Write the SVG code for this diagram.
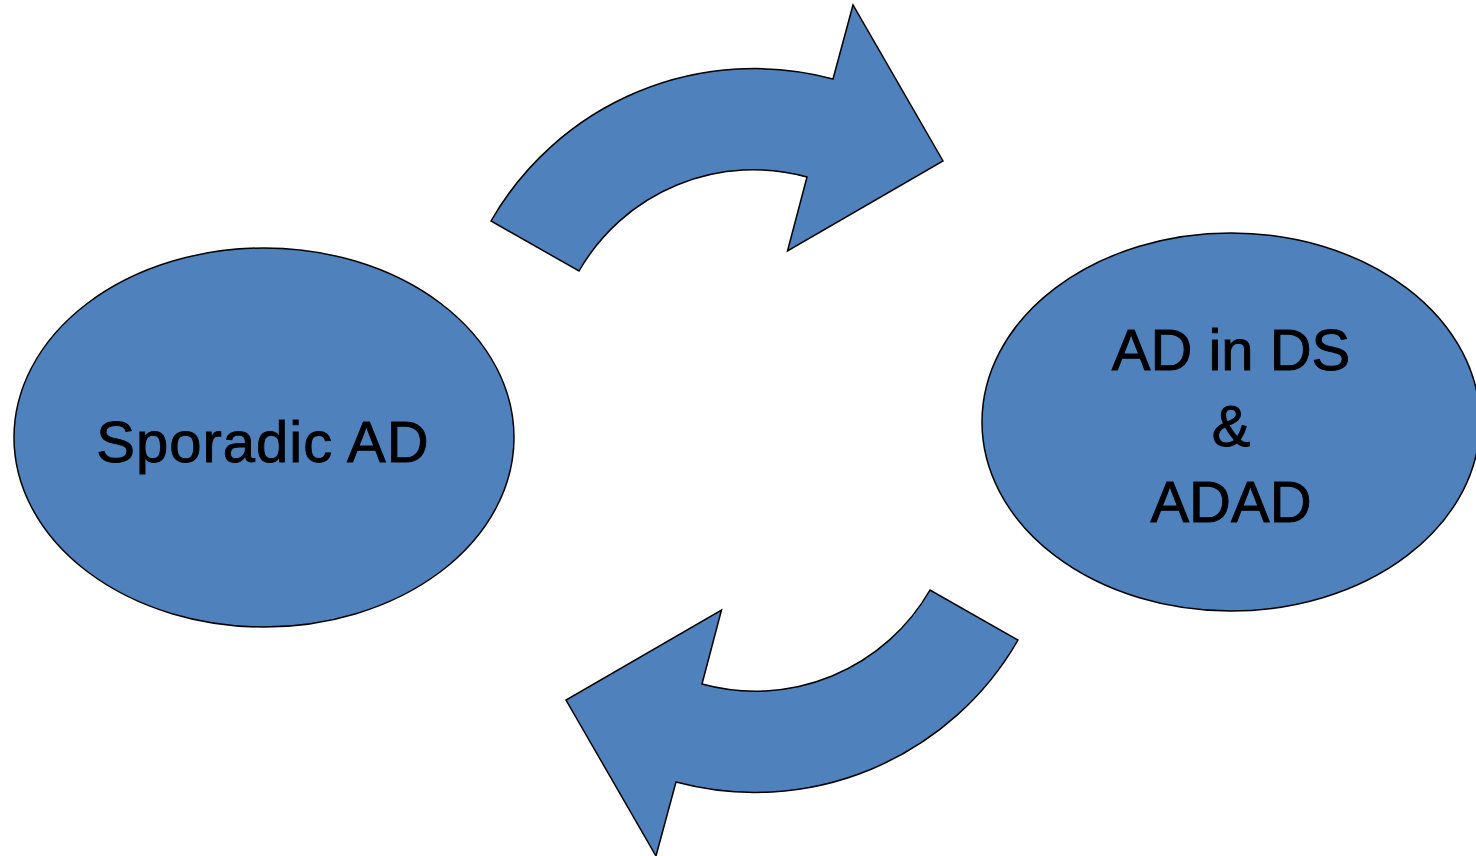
<svg xmlns="http://www.w3.org/2000/svg" width="1476" height="856" viewBox="0 0 1476 856">
<style>
.shape{fill:#4F81BD;stroke:#000;stroke-width:1.5;stroke-linejoin:miter}
.lbl{font-family:"Liberation Sans",Arial,sans-serif;font-size:58px;fill:#000;stroke:#000;stroke-width:0.9;text-anchor:middle}
</style>
<defs>
<path id="curvedArrow" d="M491,221 A303.5,303.5 0 0 1 833,79 L853,5 L943,161 L787.5,251 L807,177 A201.5,201.5 0 0 0 579,271 Z"/>
</defs>
<rect width="1476" height="856" fill="#fff"/>
<g id="connectors">
<use href="#curvedArrow" class="shape"/>
<use href="#curvedArrow" class="shape" transform="rotate(180 754.5 430.5)"/>
</g>
<g id="sporadic">
<ellipse class="shape" cx="264" cy="437.5" rx="250" ry="189.5"/>
<text class="lbl" x="263" y="462" letter-spacing="1">Sporadic AD</text>
</g>
<g id="adds">
<ellipse class="shape" cx="1231" cy="422" rx="249" ry="189"/>
<text class="lbl" x="1231" y="370">AD in DS</text>
<text class="lbl" x="1231" y="446">&amp;</text>
<text class="lbl" x="1231" y="522">ADAD</text>
</g>
</svg>
